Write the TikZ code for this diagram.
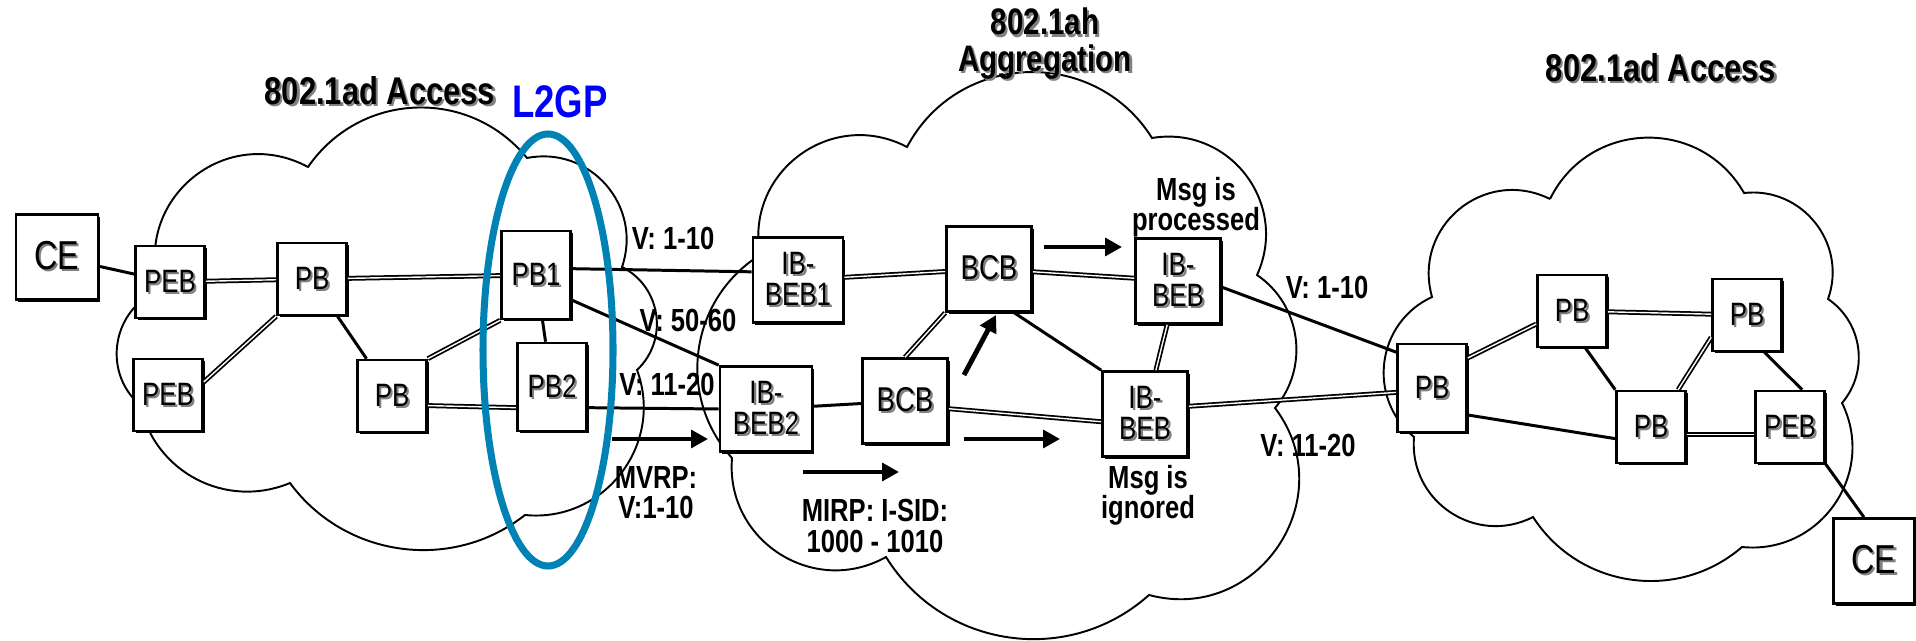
\documentclass[tikz,border=0pt]{standalone}
\usepackage{fontspec}
\setmainfont{Liberation Sans}
\newfontfamily\narrowsans[FakeStretch=0.8]{Liberation Sans}
\usetikzlibrary{arrows.meta,shadows}
\definecolor{ringblue}{RGB}{0,130,180}
\newcommand{\shd}[1]{\makebox[0pt][l]{\kern0.6pt\raisebox{-0.6pt}{\textcolor{black!50}{#1}}}#1}
\newcommand{\boxfont}{\narrowsans\fontsize{9.2}{8.8}\selectfont}
\newcommand{\lblfont}{\narrowsans\bfseries\fontsize{9.1}{8.6}\selectfont}
\newcommand{\cloudfont}{\narrowsans\bfseries\fontsize{11}{10.5}\selectfont}
\lineskiplimit=-10pt
\tikzset{
  cloudline/.style={line width=0.55pt},
  netbox/.style={draw, line width=0.75pt, fill=white, inner sep=0pt, align=center, font=\boxfont,
    drop shadow={shadow xshift=0.7pt, shadow yshift=-0.7pt, fill=black, opacity=1}},
  sq/.style={netbox, minimum width=6.9mm, minimum height=7.2mm},
  tallsq/.style={netbox, minimum width=6.9mm, minimum height=8.8mm},
  bigsq/.style={netbox, minimum width=8.5mm, minimum height=8.5mm},
  wire/.style={line width=0.85pt},
  dwire/.style={double, line width=0.5pt, double distance=0.4pt},
  vlabel/.style={font=\lblfont, inner sep=0pt, align=center},
  cloudtitle/.style={font=\cloudfont, inner sep=0pt, align=center},
  msgarrow/.style={line width=1.4pt, -{Triangle[length=4.8pt, width=5pt]}},
}
\begin{document}
\begin{tikzpicture}[x=0.1mm, y=0.1mm]
\useasboundingbox (0,0) rectangle (1916,-641);

\draw[cloudline] (160,-290) to[bend left=68, looseness=1.25] (308,-167)
  to[bend left=53, looseness=1.07] (527,-158)
  to[bend left=60, looseness=1.14] (622,-267)
  to[bend left=55, looseness=1.08] (637,-370)
  to[bend left=58, looseness=1.11] (525,-515)
  to[bend left=46, looseness=1.0] (290,-483)
  to[bend left=50, looseness=1.05] (140,-405)
  to[bend left=59, looseness=1.12] (160,-290);
\draw[cloudline] (760,-255) to[bend left=64, looseness=1.19] (907,-147)
  to[bend left=60, looseness=1.13] (1152,-138)
  to[bend left=62, looseness=1.16] (1257,-275)
  to[bend left=48, looseness=1.02] (1275,-408)
  to[bend left=71, looseness=1.28] (1149,-595)
  to[bend left=50, looseness=1.04] (886,-557)
  to[bend left=62, looseness=1.16] (732,-458)
  to[bend left=50, looseness=1.04] (760,-255);
\draw[cloudline] (1550,-199) to[bend left=62, looseness=1.16] (1744,-193)
  to[bend left=58, looseness=1.11] (1828,-299)
  to[bend left=48, looseness=1.02] (1842,-403)
  to[bend left=61, looseness=1.15] (1742,-547)
  to[bend left=49, looseness=1.03] (1533,-517)
  to[bend left=61, looseness=1.15] (1414,-437)
  to[bend left=58, looseness=1.11] (1432,-297)
  to[bend left=66, looseness=1.22] (1550,-199);

\node[bigsq, minimum width=8.2mm, font=\narrowsans\fontsize{11.5}{11}\selectfont] (ceL) at (57,-257) {\shd{CE}};
\node[sq] (pebA) at (170,-282) {\shd{PEB}};
\node[sq] (pbA) at (312,-279) {\shd{PB}};
\node[sq] (pebB) at (168,-395) {\shd{PEB}};
\node[sq] (pbB) at (392,-396) {\shd{PB}};
\node[tallsq] (pbone) at (536,-275) {\shd{PB1}};
\node[tallsq] (pbtwo) at (552,-387) {\shd{PB2}};
\node[bigsq, minimum width=9mm] (ibebone) at (798,-280) {\shd{IB-}\\\shd{BEB1}};
\node[bigsq, font=\narrowsans\fontsize{9.8}{9}\selectfont] (bcbA) at (989,-269) {\shd{BCB}};
\node[bigsq] (ibebA) at (1178,-281) {\shd{IB-}\\\shd{BEB}};
\node[bigsq, minimum width=9.2mm] (ibebtwo) at (766,-409) {\shd{IB-}\\\shd{BEB2}};
\node[bigsq, font=\narrowsans\fontsize{9.8}{9}\selectfont] (bcbB) at (905,-401) {\shd{BCB}};
\node[bigsq] (ibebB) at (1145,-414) {\shd{IB-}\\\shd{BEB}};
\node[tallsq] (pbC) at (1432,-388) {\shd{PB}};
\node[sq] (pbD) at (1572,-311) {\shd{PB}};
\node[sq] (pbE) at (1747,-315) {\shd{PB}};
\node[sq] (pbF) at (1651,-427) {\shd{PB}};
\node[sq] (pebC) at (1790,-427) {\shd{PEB}};
\node[bigsq, minimum width=8.1mm, font=\narrowsans\fontsize{11.5}{11}\selectfont] (ceR) at (1874,-561) {\shd{CE}};

\draw[wire] (ceL) -- (pebA);
\draw[dwire] (pebA) -- (pbA);
\draw[dwire] (pbA.south west) -- (pebB.20);
\draw[wire] (pbA) -- (pbB);
\draw[dwire] (pbA) -- (pbone);
\draw[dwire] (pbB.north east) -- (pbone.south west);
\draw[dwire] (pbB.-15) -- (pbtwo.210);
\draw[wire] (pbone) -- (pbtwo);
\draw[wire] (pbone.10) -- (ibebone.170);
\draw[wire] (pbone.-35) -- (ibebtwo.north west);
\draw[wire] (pbtwo.-30) -- (ibebtwo.west);
\draw[dwire] (ibebone) -- (bcbA);
\draw[dwire] (bcbA) -- (ibebA);
\draw[dwire] (bcbA.south west) -- (bcbB.north);
\draw[wire] (bcbA.-60) -- (ibebB.north west);
\draw[dwire] (ibebA) -- (ibebB);
\draw[wire] (ibebtwo) -- (bcbB);
\draw[dwire] (bcbB.-10) -- (ibebB.190);
\draw[wire] (ibebA.-8) -- (pbC.135);
\draw[dwire] (ibebB.10) -- (pbC.187);
\draw[dwire] (pbC.40) -- (pbD.200);
\draw[wire] (pbC.-37) -- (pbF.198);
\draw[dwire] (pbD) -- (pbE);
\draw[wire] (pbD.-70) -- (pbF.north west);
\draw[dwire] (pbE.212) -- (pbF.54);
\draw[wire] (pbE.-65) -- (pebC.72);
\draw[dwire] (pbF.-12) -- (pebC.192);
\draw[wire] (pebC.south east) -- (ceR.103);

\node[cloudtitle] (accL) at (380,-92) {\shd{802.1ad Access}};
\node[cloudtitle, font=\narrowsans\bfseries\fontsize{10.5}{10.5}\selectfont] (aggT) at (1045,-45) {\shd{802.1ah}\\\shd{Aggregation}};
\node[cloudtitle] (accR) at (1661,-69) {\shd{802.1ad Access}};
\node[cloudtitle, font=\narrowsans\bfseries\fontsize{13}{13}\selectfont, text=blue] (lgp) at (560,-102) {L2GP};

\node[vlabel] (vaL) at (673,-238) {V: 1-10};
\node[vlabel] (vbL) at (688,-320) {V: 50-60};
\node[vlabel] (vcL) at (667,-384) {V: 11-20};
\node[vlabel] (vaR) at (1327,-287) {V: 1-10};
\node[vlabel] (vcR) at (1308,-445) {V: 11-20};
\node[vlabel] (mvrp) at (656,-493) {MVRP:\\V:1-10};
\node[vlabel] (mirp) at (875,-526) {MIRP: I-SID:\\1000 - 1010};
\node[vlabel] (msgok) at (1196,-207) {Msg is\\processed};
\node[vlabel] (msgno) at (1148,-495) {Msg is\\ignored};

\coordinate (mvS) at (612,-439);
\coordinate (mvE) at (708,-439);
\coordinate (miS) at (803,-472);
\coordinate (miE) at (899,-472);
\coordinate (loS) at (964,-439);
\coordinate (loE) at (1060,-439);
\coordinate (upS) at (964,-375);
\coordinate (upE) at (996,-315);
\coordinate (hiS) at (1044,-247);
\coordinate (hiE) at (1122,-247);
\draw[msgarrow] (mvS) -- (mvE);
\draw[msgarrow] (miS) -- (miE);
\draw[msgarrow] (loS) -- (loE);
\draw[msgarrow] (upS) -- (upE);
\draw[msgarrow] (hiS) -- (hiE);

\draw[ringblue, line width=2pt] (548,-350) ellipse [x radius=65, y radius=216];
\end{tikzpicture}
\end{document}
